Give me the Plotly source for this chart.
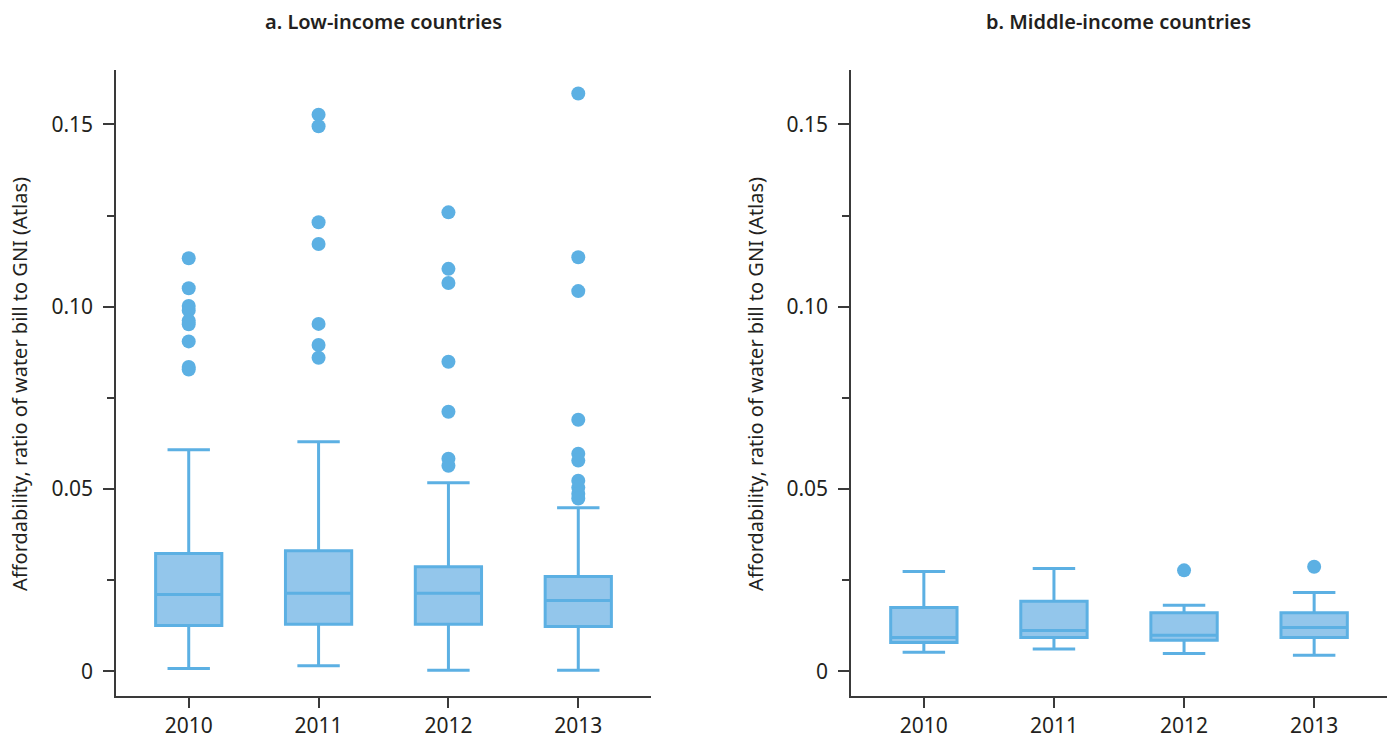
import plotly.graph_objects as go

years = ["2010", "2011", "2012", "2013"]

# Low-income countries: box statistics per year
low_lower = [0.0008, 0.0015, 0.0003, 0.0003]
low_q1 = [0.0126, 0.0129, 0.0129, 0.0123]
low_median = [0.0211, 0.0214, 0.0214, 0.0194]
low_q3 = [0.0323, 0.0331, 0.0287, 0.0260]
low_upper = [0.0608, 0.0630, 0.0517, 0.0449]

low_outliers = {
    "2010": [0.1133, 0.1051, 0.1002, 0.0990, 0.0962, 0.0952, 0.0905, 0.0835, 0.0828],
    "2011": [0.1527, 0.1495, 0.1232, 0.1172, 0.0953, 0.0895, 0.0860],
    "2012": [0.1259, 0.1104, 0.1065, 0.0849, 0.0712, 0.0583, 0.0564],
    "2013": [0.1585, 0.1136, 0.1043, 0.0690, 0.0597, 0.0578, 0.0523, 0.0504, 0.0487, 0.0474],
}

# Middle-income countries: box statistics per year
mid_lower = [0.0052, 0.0061, 0.0049, 0.0044]
mid_q1 = [0.0079, 0.0093, 0.0085, 0.0093]
mid_median = [0.0093, 0.0112, 0.0099, 0.0120]
mid_q3 = [0.0175, 0.0192, 0.0161, 0.0161]
mid_upper = [0.0274, 0.0282, 0.0181, 0.0216]

mid_outliers = {
    "2010": [],
    "2011": [],
    "2012": [0.0277],
    "2013": [0.0287],
}

y_tickvals = [0, 0.05, 0.10, 0.15]
y_ticktext = ["0", "0.05", "0.10", "0.15"]

LINE = "rgb(92,176,227)"
FILL = "rgb(147,198,235)"
TEXT = "#231f20"
AXIS = "#3a3a3a"
FONT = "Noto Sans"

fig = go.Figure()


def add_panel(xa, ya, lower, q1, med, q3, upper, outliers):
    fig.add_trace(go.Box(
        x=years, q1=q1, median=med, q3=q3,
        lowerfence=lower, upperfence=upper,
        boxpoints=False, width=0.51, whiskerwidth=0.64,
        fillcolor=FILL, line=dict(color=LINE, width=3),
        xaxis=xa, yaxis=ya, showlegend=False, hoverinfo="y",
    ))
    ox, oy = [], []
    for yr in years:
        for v in outliers[yr]:
            ox.append(yr)
            oy.append(v)
    fig.add_trace(go.Scatter(
        x=ox, y=oy, mode="markers",
        marker=dict(color=LINE, size=14, line=dict(width=0)),
        xaxis=xa, yaxis=ya, showlegend=False,
    ))


add_panel("x", "y", low_lower, low_q1, low_median, low_q3, low_upper, low_outliers)
add_panel("x2", "y2", mid_lower, mid_q1, mid_median, mid_q3, mid_upper, mid_outliers)

W, H = 1395, 739
y_dom = [(H - 698) / H, (H - 70) / H]

xaxis_common = dict(
    type="category", categoryorder="array", categoryarray=years,
    range=[-0.56, 3.56], showline=True, linecolor=AXIS, linewidth=1.5,
    ticks="outside", ticklen=10, tickwidth=1.5, tickcolor=AXIS,
    tickfont=dict(family=FONT, size=21, color=TEXT),
    showgrid=False, zeroline=False, fixedrange=True,
)
yaxis_common = dict(
    range=[-0.0068, 0.165], showline=True, linecolor=AXIS, linewidth=1.5,
    tickvals=y_tickvals, ticktext=y_ticktext,
    ticks="outside", ticklen=11, tickwidth=1.5, tickcolor=AXIS,
    minor=dict(tickvals=[0.025, 0.075, 0.125], ticks="outside", ticklen=7,
               tickwidth=1.5, tickcolor=AXIS),
    tickfont=dict(family=FONT, size=21, color=TEXT),
    ticklabelstandoff=6,
    showgrid=False, zeroline=False, domain=y_dom, fixedrange=True,
)

fig.update_layout(
    width=W, height=H,
    margin=dict(l=0, r=0, t=0, b=0),
    paper_bgcolor="white", plot_bgcolor="white",
    xaxis=dict(xaxis_common, domain=[116 / W, 651 / W], anchor="y"),
    yaxis=dict(yaxis_common, anchor="x"),
    xaxis2=dict(xaxis_common, domain=[851 / W, 1387 / W], anchor="y2"),
    yaxis2=dict(yaxis_common, anchor="x2"),
    annotations=[
        dict(text="a. Low-income countries", x=383 / W, y=1 - 22 / H,
             xref="paper", yref="paper", showarrow=False,
             xanchor="center", yanchor="middle",
             font=dict(family=FONT, size=20, color=TEXT, weight=600)),
        dict(text="b. Middle-income countries", x=1118 / W, y=1 - 22 / H,
             xref="paper", yref="paper", showarrow=False,
             xanchor="center", yanchor="middle",
             font=dict(family=FONT, size=20, color=TEXT, weight=600)),
        dict(text="Affordability, ratio of water bill to GNI (Atlas)",
             x=20 / W, y=1 - 385 / H, xref="paper", yref="paper",
             showarrow=False, textangle=-90, xanchor="center", yanchor="middle",
             font=dict(family=FONT, size=20, color=TEXT)),
        dict(text="Affordability, ratio of water bill to GNI (Atlas)",
             x=756 / W, y=1 - 385 / H, xref="paper", yref="paper",
             showarrow=False, textangle=-90, xanchor="center", yanchor="middle",
             font=dict(family=FONT, size=20, color=TEXT)),
    ],
)

fig.write_html("out.html", config={"displayModeBar": False})
